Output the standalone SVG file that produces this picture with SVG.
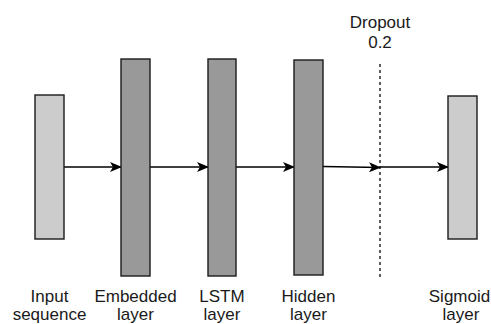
<svg xmlns="http://www.w3.org/2000/svg" width="491" height="324" viewBox="0 0 491 324">
  <style>
    .light { fill: #cccccc; stroke: #1a1a1a; stroke-width: 1.4; }
    .dark { fill: #999999; stroke: #1a1a1a; stroke-width: 1.4; }
    .edge { fill: none; stroke: #000; stroke-width: 1.4; }
    .lbl { font-family: "Liberation Sans", Arial, sans-serif; font-size: 17px; fill: #1a1a1a; text-anchor: middle; }
  </style>
  <defs>
    <marker id="arrow" viewBox="0 0 12 10" refX="11" refY="5" markerWidth="12" markerHeight="10" markerUnits="userSpaceOnUse" orient="auto">
      <path d="M0,0 L12,5 L0,10 L3,5 Z" fill="#000"/>
    </marker>
  </defs>

  <rect width="491" height="324" fill="#fff"/>

  <!-- dropout boundary -->
  <g id="dropout">
    <line x1="380" y1="64" x2="380" y2="280" stroke="#1a1a1a" stroke-width="1.4" stroke-dasharray="3,3"/>
    <text class="lbl" x="380" y="28">Dropout</text>
    <text class="lbl" x="380" y="48">0.2</text>
  </g>

  <g id="connectors">
    <line class="edge" x1="64" y1="167" x2="121" y2="167" marker-end="url(#arrow)"/>
    <line class="edge" x1="150" y1="167" x2="208" y2="167" marker-end="url(#arrow)"/>
    <line class="edge" x1="236" y1="167" x2="294" y2="167" marker-end="url(#arrow)"/>
    <line class="edge" x1="323" y1="166.5" x2="380" y2="167.5" marker-end="url(#arrow)"/>
    <line class="edge" x1="380" y1="167" x2="448" y2="167" marker-end="url(#arrow)"/>
  </g>

  <g id="input">
    <rect class="light" x="35" y="95" width="29" height="144"/>
    <text class="lbl" x="49.5" y="302">Input</text>
    <text class="lbl" x="49.5" y="320">sequence</text>
  </g>

  <g id="embedded">
    <rect class="dark" x="121" y="59" width="29" height="217"/>
    <text class="lbl" x="135.5" y="302">Embedded</text>
    <text class="lbl" x="135.5" y="320">layer</text>
  </g>

  <g id="lstm">
    <rect class="dark" x="208" y="59" width="28" height="217"/>
    <text class="lbl" x="222" y="302">LSTM</text>
    <text class="lbl" x="222" y="320">layer</text>
  </g>

  <g id="hidden">
    <rect class="dark" x="294" y="60" width="29" height="215"/>
    <text class="lbl" x="308.5" y="302">Hidden</text>
    <text class="lbl" x="308.5" y="320">layer</text>
  </g>

  <g id="sigmoid">
    <rect class="light" x="448" y="96" width="29" height="143"/>
    <text class="lbl" x="459.5" y="302">Sigmoid</text>
    <text class="lbl" x="461" y="320">layer</text>
  </g>
</svg>
